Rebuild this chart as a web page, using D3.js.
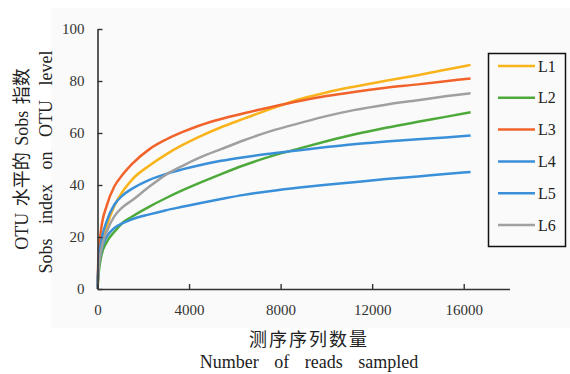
<!DOCTYPE html>
<html lang="en">
<head>
  <meta charset="UTF-8">
  <title>Sobs rarefaction</title>
  <script src="https://d3js.org/d3.v7.min.js"></script>
  <style>
      body { margin: 0; background: #fff; }
      .tick text { font-family: "Liberation Serif", serif; font-size: 15px; fill: #333; }
      .legend text { font-family: "Liberation Serif", serif; font-size: 16px; fill: #222; }
  </style>
</head>
<body>
<svg width="570" height="374"></svg>
<script>
  // reads sampled (x) and Sobs values
  const reads = [0, 40, 160, 400, 740, 1100, 1500, 2270, 3000, 3700, 4460, 5400, 6400, 7600, 8830, 10000, 11200, 12600, 14000, 15200, 16300];
  const L1 = [0, 6, 15, 24, 32, 37.5, 42, 47.5, 51.8, 55.3, 58.6, 62.2, 65.5, 69.4, 73, 75.6, 77.8, 80.1, 82.2, 84.3, 86.2];
  const L2 = [0, 5, 12.5, 18, 22, 25.5, 27.8, 31.7, 35, 37.9, 40.8, 44.2, 47.6, 51.1, 54.1, 56.8, 59.4, 62, 64.3, 66.2, 68];
  const L3 = [0, 12, 23, 32, 39.5, 44, 48, 53.8, 57.5, 60.3, 62.9, 65.4, 67.6, 70, 72.3, 74.2, 75.8, 77.4, 78.7, 79.9, 81];
  const L4 = [0, 9, 18, 26, 32.5, 36, 38.5, 42, 44.3, 46, 47.6, 49.3, 50.7, 52.1, 53.4, 54.6, 55.7, 56.7, 57.6, 58.3, 59];
  const L5 = [0, 8, 14.5, 20, 23.5, 25.3, 26.8, 28.7, 30.3, 31.6, 33, 34.6, 36.2, 37.7, 39, 40.1, 41.1, 42.3, 43.3, 44.2, 45];
  const L6 = [0, 7, 15, 22, 28, 31.5, 34, 39.4, 44, 47.3, 50.5, 53.8, 57.2, 60.8, 63.8, 66.5, 68.8, 70.9, 72.6, 74.1, 75.3];

  const names = ["L1", "L2", "L3", "L4", "L5", "L6"];
  const colors = ["#f9b31b", "#4ea93b", "#f1632a", "#3a8fd9", "#3a8fd9", "#a0a0a0"];
  const seriesValues = [L1, L2, L3, L4, L5, L6];
  const xTicks = [0, 4000, 8000, 12000, 16000];
  const yTicks = [0, 20, 40, 60, 80, 100];

  const svg = d3.select("svg");

  // light panel behind the plot
  svg.append("rect")
    .attr("x", 51).attr("y", 8)
    .attr("width", 519).attr("height", 320)
    .attr("fill", "#fafafa");

  const x = d3.scaleLinear().domain([0, 18000]).range([97.5, 509.5]);
  const y = d3.scaleLinear().domain([0, 100]).range([289, 29]);

  const line = d3.line()
    .x(d => x(d[0]))
    .y(d => y(d[1]))
    .curve(d3.curveMonotoneX);

  svg.append("g")
    .selectAll("path")
    .data(seriesValues)
    .enter().append("path")
    .attr("d", vals => line(vals.map((v, i) => [reads[i], v])))
    .attr("fill", "none")
    .attr("stroke", (d, i) => colors[i])
    .attr("stroke-width", 2.5);

  const xAxis = svg.append("g")
    .attr("transform", `translate(0,${y(0)})`)
    .call(d3.axisBottom(x).tickValues(xTicks).tickFormat(d3.format("d"))
      .tickSizeInner(-5).tickSizeOuter(0).tickPadding(15));
  const yAxis = svg.append("g")
    .attr("transform", `translate(${x(0)},0)`)
    .call(d3.axisLeft(y).tickValues(yTicks).tickFormat(d3.format("d"))
      .tickSizeInner(-5).tickSizeOuter(0).tickPadding(13));

  [xAxis, yAxis].forEach(a => {
    a.attr("font-family", null).attr("font-size", null);
    a.select(".domain").attr("stroke", "#333").attr("stroke-width", 1.6);
    a.selectAll(".tick line").attr("stroke", "#333").attr("stroke-width", 1.4);
  });

  // axis titles
  function title(txt, transform, family) {
    return svg.append("text")
      .attr("transform", transform)
      .attr("text-anchor", "middle")
      .attr("font-family", family)
      .attr("font-size", 18)
      .attr("fill", "#222")
      .text(txt);
  }
  title("OTU 水平的 Sobs 指数", "translate(28,159) rotate(-90)", "Liberation Serif, Noto Sans CJK SC")
    .style("word-spacing", "2px");
  title("Sobs index on OTU level", "translate(52,162) rotate(-90)", "Liberation Serif")
    .style("word-spacing", "10px");
  title("测序序列数量", "translate(309,346)", "Noto Sans CJK SC")
    .style("letter-spacing", "2px");
  title("Number of reads sampled", "translate(309,368)", "Liberation Serif")
    .style("word-spacing", "11px");

  // legend
  const legend = svg.append("g").attr("class", "legend");
  legend.append("rect")
    .attr("x", 488.5).attr("y", 53.5)
    .attr("width", 77).attr("height", 193)
    .attr("fill", "#fafafa")
    .attr("stroke", "#111").attr("stroke-width", 1.5);

  const item = legend.selectAll("g.item")
    .data(names)
    .enter().append("g")
    .attr("class", "item")
    .attr("transform", (d, i) => `translate(0,${66 + i * 31.8})`);
  item.append("line")
    .attr("x1", 498).attr("x2", 535)
    .attr("stroke", (d, i) => colors[i])
    .attr("stroke-width", 2.5);
  item.append("text")
    .attr("x", 538).attr("dy", "0.35em")
    .text(d => d);
</script>
</body>
</html>
